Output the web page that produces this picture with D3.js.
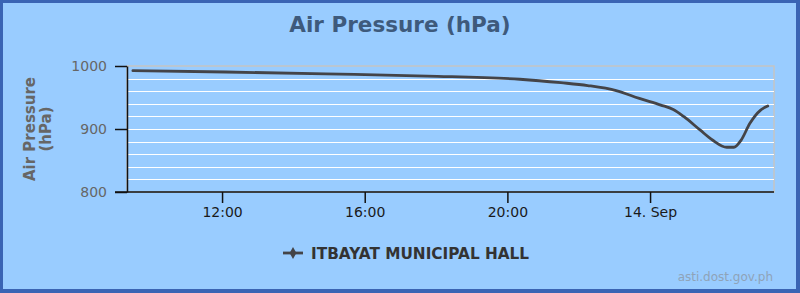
<!DOCTYPE html>
<html>
<head>
<meta charset="utf-8">
<script src="https://cdn.jsdelivr.net/npm/d3@7"></script>
<style>
    html, body { margin: 0; padding: 0; background: #3a64b4; }
    svg { display: block; }
</style>
</head>
<body>
<div id="vis"></div>
<script>
// data (hours from 13 Sep 2016 00:00, hPa)
var seriesName = 'ITBAYAT MUNICIPAL HALL';
var hours = [9.5, 12.1, 14.9, 17.75, 20.35, 21.5, 22.25, 23.05, 23.7, 24.3,
    24.65, 24.95, 25.4, 25.75, 26.15, 26.35, 26.55, 26.8, 27.1, 27.3];
var pressure = [992.5, 990.5, 987.5, 984, 979, 973.5, 969, 961, 948.5, 938,
    931, 919.5, 898.5, 882.5, 871, 871, 882, 909, 930, 936.5];
var yTicks = [800, 900, 1000];
var xTickHours = [12, 16, 20, 24];

var W = 800, H = 293;
var baseDate = new Date(2016, 8, 13, 0, 0);
function toDate(h) { return new Date(baseDate.getTime() + h * 3600 * 1000); }

var margin = { left: 127, top: 66, right: 26, bottom: 101 };
var plotW = W - margin.left - margin.right;
var plotH = H - margin.top - margin.bottom;
var fontFam = '"DejaVu Sans", Verdana, sans-serif';

var svg = d3.select('#vis')
    .append('svg')
        .attr('width', W)
        .attr('height', H)
        .style('font-family', fontFam);

// background + frame
svg.append('rect')
    .attr('x', 0).attr('y', 0).attr('width', W).attr('height', H)
    .attr('fill', '#3a64b4');
svg.append('rect')
    .attr('x', 3).attr('y', 3).attr('width', W - 7).attr('height', H - 7)
    .attr('fill', '#99ccff');

svg.append('text')
    .attr('x', W / 2).attr('y', 32)
    .attr('text-anchor', 'middle')
    .attr('font-size', 21.5)
    .attr('font-weight', 'bold')
    .attr('fill', '#3e5a7c')
    .text('Air Pressure (hPa)');

var g = svg.append('g')
    .attr('transform', 'translate(' + margin.left + ',' + margin.top + ')');

var xScale = d3.scaleTime()
    .domain([toDate(9.335), toDate(27.475)])
    .range([0, plotW]);
var yScale = d3.scaleLinear()
    .domain([800, 1000])
    .range([plotH, 0]);

// plot border
g.append('rect')
    .attr('x', 0).attr('y', 0).attr('width', plotW).attr('height', plotH)
    .attr('fill', 'none')
    .attr('stroke', '#c4c4c4')
    .attr('stroke-width', 1.5);

// grid every 20 hPa
g.append('g')
    .selectAll('line')
    .data(d3.range(820, 1000, 20))
    .join('line')
        .attr('x1', 0).attr('x2', plotW)
        .attr('y1', function(d) { return Math.round(yScale(d)) + 0.5; })
        .attr('y2', function(d) { return Math.round(yScale(d)) + 0.5; })
        .attr('stroke', '#ffffff')
        .attr('stroke-width', 1.2);

// y axis
var yAxis = g.append('g')
    .call(d3.axisLeft(yScale).tickValues(yTicks).tickSize(12).tickSizeOuter(0)
        .tickPadding(8).tickFormat(d3.format('d')));
yAxis.attr('font-family', fontFam).attr('font-size', 14);
yAxis.select('.domain').attr('stroke', '#111').attr('stroke-width', 1.5);
yAxis.selectAll('.tick line').attr('stroke', '#111').attr('stroke-width', 1.5);
yAxis.selectAll('.tick text').attr('fill', '#666');

// x axis
var fmtTime = d3.timeFormat('%H:%M');
var fmtDay = d3.timeFormat('%d. %b');
var xAxis = g.append('g')
    .attr('transform', 'translate(0,' + plotH + ')')
    .call(d3.axisBottom(xScale)
        .tickValues(xTickHours.map(toDate))
        .tickSize(11).tickSizeOuter(0).tickPadding(4)
        .tickFormat(function(d) { return d.getHours() === 0 ? fmtDay(d) : fmtTime(d); }));
xAxis.attr('font-family', fontFam).attr('font-size', 14);
xAxis.select('.domain').remove();
xAxis.append('line')
    .attr('x1', -12).attr('x2', plotW)
    .attr('stroke', '#111').attr('stroke-width', 1.5);
xAxis.selectAll('.tick line').attr('stroke', '#111').attr('stroke-width', 1.5);
xAxis.selectAll('.tick text').attr('fill', '#1a1a1a');

// y axis title
var yTitle = svg.append('text')
    .attr('transform', 'translate(37,' + (margin.top + plotH / 2) + ') rotate(-90)')
    .attr('text-anchor', 'middle')
    .attr('font-size', 15)
    .attr('font-weight', 'bold')
    .attr('fill', '#666');
yTitle.append('tspan').attr('x', 0).attr('dy', -2).text('Air Pressure');
yTitle.append('tspan').attr('x', 0).attr('dy', 16).text('(hPa)');

// series line
var data = hours.map(function(h, i) { return { t: toDate(h), v: pressure[i] }; });
var line = d3.line()
    .x(function(d) { return xScale(d.t); })
    .y(function(d) { return yScale(d.v); })
    .curve(d3.curveMonotoneX);

g.append('path')
    .datum(data)
    .attr('d', line)
    .attr('fill', 'none')
    .attr('stroke', '#444448')
    .attr('stroke-width', 2.8)
    .attr('stroke-linejoin', 'round')
    .attr('stroke-linecap', 'round');

// legend
var legend = svg.append('g').attr('transform', 'translate(283,253)');
legend.append('line')
    .attr('x1', 0).attr('x2', 20)
    .attr('stroke', '#444448').attr('stroke-width', 2.8);
legend.append('path')
    .attr('d', d3.symbol().type(d3.symbolDiamond).size(40))
    .attr('transform', 'translate(10,0)')
    .attr('fill', '#444448');
legend.append('text')
    .attr('x', 28).attr('y', 6)
    .attr('font-size', 15.3)
    .attr('font-weight', 'bold')
    .attr('fill', '#333')
    .text(seriesName);

// credits
svg.append('text')
    .attr('x', 773).attr('y', 281)
    .attr('text-anchor', 'end')
    .attr('font-size', 12)
    .attr('fill', '#8fa3b8')
    .text('asti.dost.gov.ph');
</script>
</body>
</html>
